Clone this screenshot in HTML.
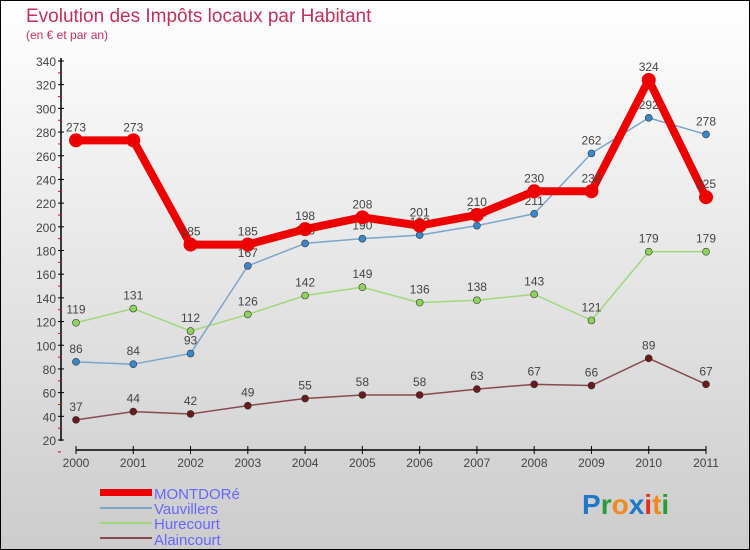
<!DOCTYPE html>
<html><head><meta charset="utf-8"><style>
body{margin:0}
#c{width:750px;height:550px;position:relative;box-sizing:border-box;border:1px solid #000;background:linear-gradient(#fff,#ccc);font-family:"Liberation Sans",sans-serif;overflow:hidden}
</style></head><body>
<div id="c">
<svg width="750" height="550" style="position:absolute;left:-1px;top:-1px" id="svg">
<text x="26" y="22" font-size="19" fill="#c0305a">Evolution des Impôts locaux par Habitant</text>
<text x="26" y="39" font-size="12" fill="#c0305a">(en € et par an)</text>
<g id="axes"></g><g id="series"></g>
<g>
<rect x="100" y="489" width="52" height="7" fill="#e00"/>
<text x="154" y="499" font-size="15" fill="#66f">MONTDORé</text>
<rect x="100" y="507" width="52" height="2" fill="#7aa6cc"/>
<text x="154" y="514" font-size="15" fill="#66f">Vauvillers</text>
<rect x="100" y="522" width="52" height="2" fill="#9fd97a"/>
<text x="154" y="529" font-size="15" fill="#66f">Hurecourt</text>
<rect x="100" y="537" width="52" height="2" fill="#8a4a4a"/>
<text x="154" y="545" font-size="15" fill="#66f">Alaincourt</text>
</g>
<text x="582" y="514" font-size="28" font-weight="bold"><tspan fill="#1e78c8">P</tspan><tspan fill="#2a9a3a">r</tspan><tspan fill="#f08a1e">o</tspan><tspan fill="#1e78c8">x</tspan><tspan fill="#e03020">i</tspan><tspan fill="#f08a1e">t</tspan><tspan fill="#2a9a3a">i</tspan></text>
</svg>
</div>
<script>
const years=["2000","2001","2002","2003","2004","2005","2006","2007","2008","2009","2010","2011"];
const yTicks=[20,40,60,80,100,120,140,160,180,200,220,240,260,280,300,320,340];
const montdore=[273,273,185,185,198,208,201,210,230,230,324,225];
const vauvillers=[86,84,93,167,186,190,193,201,211,262,292,278];
const hurecourt=[119,131,112,126,142,149,136,138,143,121,179,179];
const alaincourt=[37,44,42,49,55,58,58,63,67,66,89,67];
const NS="http://www.w3.org/2000/svg";
const X=i=>76+i*(706-76)/11;
const Y=v=>440-(v-20)*(440-61)/320;
function mk(t,a,p){const e=document.createElementNS(NS,t);for(const k in a)e.setAttribute(k,a[k]);p.appendChild(e);return e;}
const ax=document.getElementById('axes');
const yl=mk('line',{x1:61,y1:58,x2:61,y2:441,stroke:'#000','stroke-width':1.5},ax);


yTicks.forEach(v=>{
 mk('line',{x1:58,y1:Y(v),x2:64,y2:Y(v),stroke:'#000'},ax);
 mk('line',{x1:58,y1:Y(v)+11.9,x2:61,y2:Y(v)+11.9,stroke:'#e00'},ax);
 const t=mk('text',{x:56,y:Y(v)+5,'font-size':12,fill:'#444','text-anchor':'end'},ax);t.textContent=v;
 
 
});
const xl=mk('line',{x1:76,y1:450,x2:706,y2:450,stroke:'#000','stroke-width':1.5},ax);


years.forEach((y,i)=>{
 mk('line',{x1:X(i),y1:446,x2:X(i),y2:454,stroke:'#000'},ax);
 const t=mk('text',{x:X(i),y:467,'font-size':12,fill:'#444','text-anchor':'middle'},ax);t.textContent=y;
 
 
});
const sg=document.getElementById('series');
function series(d,color,w,r,dot,name){
 const g=mk('g',{},sg);
 
 
 const p=mk('polyline',{points:d.map((v,i)=>X(i)+','+Y(v)).join(' '),fill:'none',stroke:color,'stroke-width':w,'stroke-linejoin':'round'},g);
 
 
 d.forEach((v,i)=>{
  const c=mk('circle',{cx:X(i),cy:Y(v),r:r,fill:dot,stroke:'#333','stroke-width':r>5?0:0.6},g);
  
  
  const t=mk('text',{x:X(i),y:Y(v)-9,'font-size':12,fill:'#444','text-anchor':'middle'},g);t.textContent=v;
  
  
 });
}
series(alaincourt,'#8a4a4a',1.5,3.5,'#6a1a1a','alaincourt');
series(hurecourt,'#9fd97a',1.5,3.5,'#8fd45a','hurecourt');
series(vauvillers,'#7aa6cc',1.5,3.5,'#3a88cc','vauvillers');
series(montdore,'#e00',8,7,'#e00','montdore');
</script>
</body></html>
